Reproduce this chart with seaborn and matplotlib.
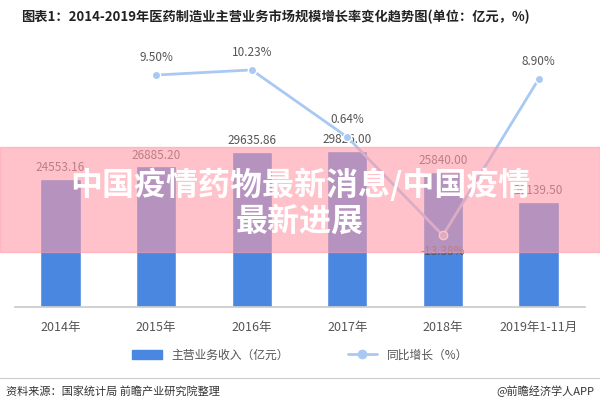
import matplotlib
matplotlib.use("Agg")
import matplotlib.pyplot as plt
import seaborn as sns
import pandas as pd
from matplotlib.patches import Rectangle
from matplotlib.lines import Line2D

years = ["2014年", "2015年", "2016年", "2017年", "2018年", "2019年1-11月"]
revenue = [24553.16, 26885.20, 29635.86, 29826.00, 25840.00, 20139.50]
growth = [None, 9.50, 10.23, 0.64, -13.38, 8.90]

sns.set_theme(style="white")
plt.rcParams['font.family'] = ['Noto Sans CJK SC', 'DejaVu Sans']

df = pd.DataFrame({"year": years, "rev": revenue, "g": growth})
fig = plt.figure(figsize=(6, 4), dpi=100)
ax = fig.add_axes([14.5/600, 1-307/400, 570/600, 267/400])
sns.barplot(data=df, x="year", y="rev", color="#4a87e0", saturation=1, width=0.42, ax=ax)
ax.set_ylim(0, 51050)
ax.set_yticks([])
ax.set_xlabel(""); ax.set_ylabel("")
for s in ["left", "right", "top"]:
    ax.spines[s].set_visible(False)
ax.spines["bottom"].set_color("#cccccc")
ax.tick_params(axis="x", colors="#555555", labelsize=9, length=0, pad=10)
for i, v in enumerate(revenue):
    ax.text(i, v + 900, f"{v:.2f}", ha="center", va="bottom", fontsize=8.5, color="#555555")

ax2 = ax.twinx()
dl = df.dropna()
ax2.plot(dl.index, dl["g"], color="#a9c9f2", lw=2, marker="o", ms=6,
         mfc="#a9c9f2", mec="white")
ax2.set_ylim(-23.6, 14.5)
ax2.set_yticks([])
for s in ["left", "right", "top", "bottom"]:
    ax2.spines[s].set_visible(False)
for i, v in zip(dl.index, dl["g"]):
    off = 1.6 if v > -5 else -3.2
    ax2.text(i, v + off, f"{v:.2f}%", ha="center", va="bottom", fontsize=8.5, color="#555555")

fig.text(0.035, 0.975, "图表1：2014-2019年医药制造业主营业务市场规模增长率变化趋势图(单位：亿元，%)",
         fontsize=9.5, fontweight="bold", color="#222222", va="top")

h = [Rectangle((0, 0), 1, 1, color="#4a87e0"),
     Line2D([0], [0], color="#a9c9f2", lw=2, marker="o", ms=6)]
fig.legend(h, ["主营业务收入（亿元）", "同比增长（%）"], loc="center", bbox_to_anchor=(0.5, 1-355/400),
           ncol=2, frameon=False, fontsize=8.5, handlelength=2.5, columnspacing=5, labelcolor="#555555")
fig.add_artist(Line2D([0, 1], [1-378/400]*2, color="#cccccc", lw=0.8))
fig.text(0.01, 1-391/400, "资料来源：国家统计局 前瞻产业研究院整理", fontsize=8, color="#333333", va="center")
fig.text(0.99, 1-391/400, "@前瞻经济学人APP", fontsize=8, color="#333333", va="center", ha="right")

fig.add_artist(Rectangle((0, 1-252/400), 1, 105/400, transform=fig.transFigure,
                         color="#ff9aa8", alpha=0.6, zorder=5))
fig.text(0.5, 1-185/400, "中国疫情药物最新消息/中国疫情", fontsize=23, fontweight="bold",
         color="white", ha="center", va="center", zorder=6)
fig.text(0.5, 1-222/400, "最新进展", fontsize=23, fontweight="bold",
         color="white", ha="center", va="center", zorder=6)
fig.savefig("out.png")
